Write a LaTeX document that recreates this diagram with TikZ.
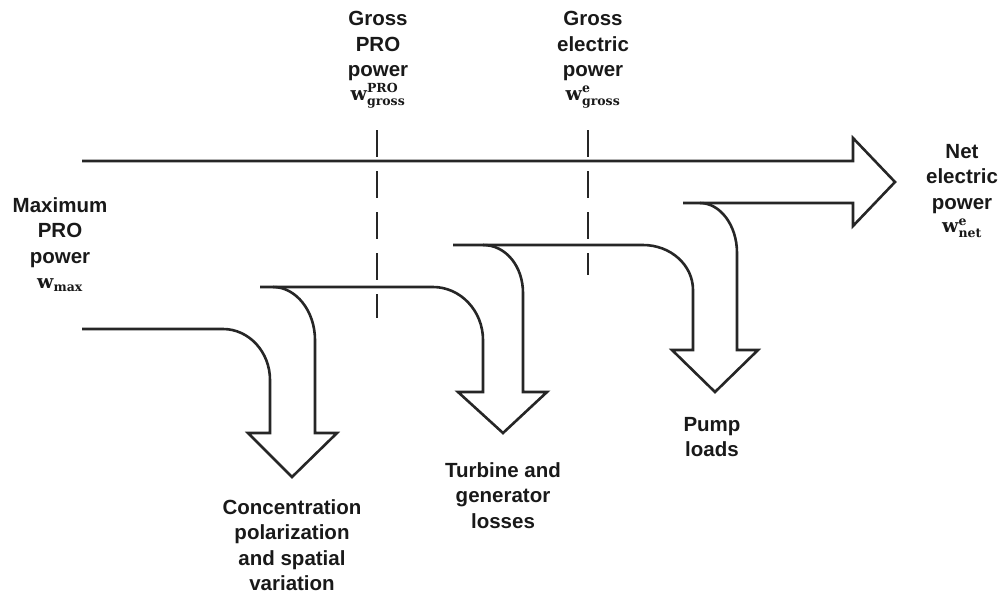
\documentclass[tikz,border=0pt]{standalone}
\usepackage[no-math]{fontspec}
\setmainfont{Liberation Sans}
\newfontfamily\wserif{DejaVu Serif}
\newcommand\wscr[1]{\hbox{\wserif\bfseries\fontsize{12.5}{13}\selectfont #1}}
\newcommand\wpow[2]{{\wserif\bfseries\fontsize{19}{20}\selectfont w}$^{\wscr{#1}}_{\wscr{#2}}$}
\newcommand\wsub[1]{{\wserif\bfseries\fontsize{19}{20}\selectfont w}$_{\wscr{#1}}$}
\begin{document}
\begin{tikzpicture}[x=1pt,y=-1pt,
  flow/.style={draw=black!85,line width=2.6pt,line join=miter,line cap=butt},
  divider/.style={draw=black!85,line width=2.6pt,dash pattern=on 27pt off 14pt},
  lbl/.style={align=center,inner sep=0pt,anchor=north,text=black!90,
    font=\fontsize{20.5}{25.5}\selectfont\bfseries}]
\useasboundingbox (0,0) rectangle (1003,595);
% named coordinates
\coordinate (mainL) at (82,161);
\coordinate (tip) at (895,182);
\coordinate (netStart) at (683,203);
\coordinate (elecStart) at (453,245);
\coordinate (proStart) at (260,287);
\coordinate (maxL) at (82,329);
\coordinate (cpTip) at (292,477);
\coordinate (tgTip) at (503,433);
\coordinate (pTip) at (715,392);
\coordinate (d1top) at (377,130);
\coordinate (d1bot) at (377,318);
\coordinate (d2top) at (588,130);
\coordinate (d2bot) at (588,275);
% main band with arrowhead
\draw[flow] (mainL) -- (853,161) -- (853,138) -- (tip) -- (853,226) -- (853,203) -- (netStart);
% pump loads branch
\draw[flow] (700,203) .. controls (720,203) and (737,225) .. (737,253) -- (737,350) -- (758,350)
  -- (pTip) -- (672,350) -- (693,350) -- (693,290) .. controls (693,265) and (670.6,245) .. (643,245) -- (elecStart);
% turbine and generator branch
\draw[flow] (483,245) .. controls (506,245) and (523,266.5) .. (523,293) -- (523,392) -- (547,392)
  -- (tgTip) -- (458,392) -- (483,392) -- (483,340) .. controls (483,311) and (460.6,287) .. (433,287) -- (proStart);
% concentration polarization branch
\draw[flow] (273,287) .. controls (296,287) and (315,311) .. (315,340) -- (315,433) -- (337,433)
  -- (cpTip) -- (248,433) -- (270,433) -- (270,380) .. controls (270,352) and (249,329) .. (223,329) -- (maxL);
% dashed dividers
\draw[divider] (d1top) -- (d1bot);
\draw[divider] (d2top) -- (d2bot);
% labels
\node[lbl] (maxlbl) at (60,197) {Maximum\\PRO\\power\\\wsub{max}};
\node[lbl] (grosspro) at (378,11) {Gross\\PRO\\power\\[-2pt]\wpow{PRO}{gross}};
\node[lbl] (grosse) at (593,11) {Gross\\electric\\power\\[-2pt]\wpow{e}{gross}};
\node[lbl] (netlbl) at (962,144) {Net\\electric\\power\\[-2pt]\wpow{e}{net}};
\node[lbl] (cplbl) at (292,499) {Concentration\\polarization\\and spatial\\variation};
\node[lbl] (tglbl) at (503,462) {Turbine and\\generator\\losses};
\node[lbl] (plbl) at (712,417) {Pump\\loads};
\end{tikzpicture}
\end{document}
